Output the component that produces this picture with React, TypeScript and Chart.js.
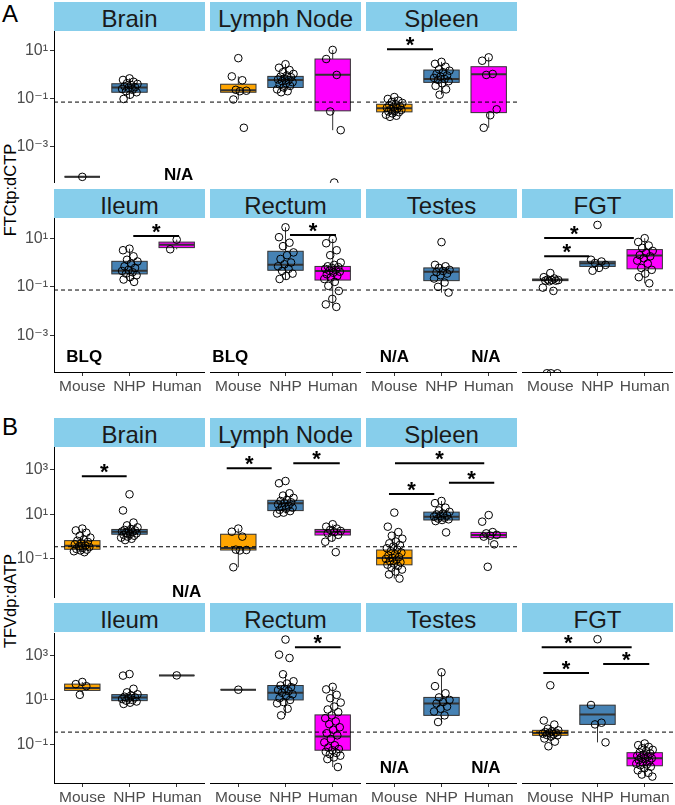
import React, { useEffect, useRef } from "react";
import { Chart, registerables } from "chart.js";

Chart.register(...registerables);

// ---------- shared ----------
const CATEGORIES = ["Mouse", "NHP", "Human"];
const GROUP_COLORS = ["#FFA500", "#4682B4", "#FF00FF"];
const A_TITLE = "FTCtp:dCTP";
const B_TITLE = "TFVdp:dATP";
const A_TICKS = [1e-3, 1e-1, 1e1];
const B_TICKS = [1e-1, 1e1, 1e3];
const A_LIMITS = [3.16e-5, 67.6];
const B_LIMITS = [1.74e-3, 10700];
const A_LLOQ = 0.074;
const B_LLOQ = 0.35;

// ---------- Panel A (FTCtp:dCTP) ----------  box = [whiskerLow, q1, median, q3, whiskerHigh]
const A_BRAIN_MOUSE = [5.7e-5];
const A_BRAIN_MOUSE_BOX = [5.7e-5, 5.7e-5, 5.7e-5, 5.7e-5, 5.7e-5];
const A_BRAIN_NHP = [0.72, 0.62, 0.52, 0.45, 0.42, 0.38, 0.34, 0.31, 0.29, 0.26, 0.24, 0.21, 0.19, 0.15, 0.1];
const A_BRAIN_NHP_BOX = [0.1, 0.19, 0.3, 0.43, 0.72];

const A_LN_MOUSE = [5.0, 0.87, 0.6, 0.24, 0.22, 0.21, 0.095, 0.0063];
const A_LN_MOUSE_BOX = [0.095, 0.19, 0.23, 0.41, 0.87];
const A_LN_NHP = [2.8, 2.0, 1.6, 1.3, 1.1, 0.95, 0.85, 0.8, 0.72, 0.65, 0.6, 0.55, 0.5, 0.45, 0.4, 0.35, 0.3, 0.25, 0.21, 0.19];
const A_LN_NHP_BOX = [0.19, 0.3, 0.62, 0.87, 2.8];
const A_LN_HUMAN = [11, 4.6, 1.0, 0.03, 0.005, 3.3e-5];
const A_LN_HUMAN_BOX = [0.005, 0.032, 1.02, 4.6, 11];

const A_SPLEEN_MOUSE = [0.12, 0.1, 0.085, 0.075, 0.068, 0.06, 0.055, 0.05, 0.046, 0.043, 0.04, 0.038, 0.035, 0.032, 0.03, 0.028, 0.025, 0.022, 0.02, 0.018];
const A_SPLEEN_MOUSE_BOX = [0.018, 0.029, 0.041, 0.06, 0.12];
const A_SPLEEN_NHP = [3.5, 2.9, 2.2, 1.7, 1.5, 1.3, 1.1, 0.95, 0.85, 0.75, 0.68, 0.62, 0.55, 0.45, 0.35, 0.25, 0.15];
const A_SPLEEN_NHP_BOX = [0.15, 0.49, 0.67, 1.6, 3.5];
const A_SPLEEN_HUMAN = [5.4, 3.9, 1.1, 1.0, 0.037, 0.021, 0.0063];
const A_SPLEEN_HUMAN_BOX = [0.0063, 0.027, 1.07, 2.2, 5.4];
const A_SPLEEN_SIG = [[-0.155, 0.82, 11.7]];

const A_ILEUM_NHP = [3.7, 3.2, 1.8, 1.3, 1.1, 0.9, 0.7, 0.6, 0.5, 0.45, 0.4, 0.35, 0.3, 0.25, 0.2, 0.16];
const A_ILEUM_NHP_BOX = [0.16, 0.34, 0.46, 1.12, 3.7];
const A_ILEUM_HUMAN = [8.7, 3.5];
const A_ILEUM_HUMAN_BOX = [3.5, 4.1, 5.4, 6.9, 8.7];
const A_ILEUM_SIG = [[1.08, 2.05, 12.4]];

const A_RECTUM_NHP = [28, 11, 6.5, 4.7, 2.6, 2.0, 1.4, 1.0, 0.85, 0.7, 0.55, 0.45, 0.35, 0.28, 0.21];
const A_RECTUM_NHP_BOX = [0.21, 0.48, 0.81, 2.9, 28];
const A_RECTUM_HUMAN = [9.3, 6.2, 3.2, 2.0, 1.0, 0.8, 0.7, 0.65, 0.6, 0.55, 0.5, 0.46, 0.42, 0.38, 0.33, 0.28, 0.24, 0.21, 0.16, 0.11, 0.068, 0.032, 0.019, 0.015];
const A_RECTUM_HUMAN_BOX = [0.015, 0.19, 0.45, 0.69, 9.3];
const A_RECTUM_SIG = [[1.095, 2.07, 13.5]];

const A_TESTES_NHP = [6.9, 0.8, 0.7, 0.6, 0.5, 0.45, 0.4, 0.35, 0.3, 0.22, 0.15, 0.1, 0.058];
const A_TESTES_NHP_BOX = [0.058, 0.18, 0.42, 0.6, 0.8];

const A_FGT_MOUSE = [0.37, 0.25, 0.22, 0.2, 0.19, 0.19, 0.18, 0.18, 0.17, 0.093, 0.068, 2.8e-5, 2.8e-5, 2.8e-5];
const A_FGT_MOUSE_BOX = [0.17, 0.18, 0.19, 0.21, 0.25];
const A_FGT_NHP = [35, 1.3, 1.1, 0.95, 0.8, 0.6, 0.46];
const A_FGT_NHP_BOX = [0.46, 0.69, 0.93, 1.12, 1.3];
const A_FGT_HUMAN = [10, 7, 5, 4, 3, 2.5, 2, 1.8, 1.5, 1.2, 0.9, 0.6, 0.5, 0.35, 0.25, 0.14];
const A_FGT_HUMAN_BOX = [0.14, 0.55, 1.95, 3.4, 10];
const A_FGT_SIG = [[-0.13, 1.77, 10.2, 0.51], [-0.13, 0.826, 1.8]];

// ---------- Panel B (TFVdp:dATP) ----------
const B_BRAIN_MOUSE = [2.3, 1.9, 1.5, 1.1, 0.9, 0.75, 0.65, 0.58, 0.5, 0.45, 0.4, 0.37, 0.34, 0.31, 0.28, 0.26, 0.24, 0.22, 0.2];
const B_BRAIN_MOUSE_BOX = [0.2, 0.27, 0.39, 0.66, 2.3];
const B_BRAIN_NHP = [80, 15, 4.3, 3.2, 2.6, 2.2, 2.0, 1.9, 1.8, 1.7, 1.6, 1.5, 1.4, 1.3, 1.2, 1.1, 1.0, 0.9, 0.8, 0.7];
const B_BRAIN_NHP_BOX = [0.7, 1.28, 1.66, 2.1, 4.3];
const B_BRAIN_SIG = [[-0.01, 0.94, 515]];

const B_LN_MOUSE = [2.3, 1.66, 1.0, 0.26, 0.25, 0.24, 0.042];
const B_LN_MOUSE_BOX = [0.042, 0.25, 0.31, 1.28, 2.3];
const B_LN_NHP = [316, 250, 89, 70, 55, 45, 40, 35, 32, 28, 25, 22, 20, 18, 16, 14, 12, 11];
const B_LN_NHP_BOX = [11, 14.8, 32, 43, 89];
const B_LN_HUMAN = [3.6, 2.8, 2.3, 2.0, 1.8, 1.6, 1.4, 1.2, 0.9, 0.59, 0.2];
const B_LN_HUMAN_BOX = [0.59, 1.18, 1.66, 2.1, 3.6];
const B_LN_SIG = [[-0.246, 0.707, 1175], [1.165, 2.15, 2000]];

const B_SPLEEN_MOUSE = [12, 2.8, 1.6, 1.1, 0.8, 0.6, 0.5, 0.42, 0.36, 0.3, 0.26, 0.22, 0.19, 0.16, 0.14, 0.12, 0.11, 0.1, 0.09, 0.08, 0.07, 0.062, 0.055, 0.048, 0.04, 0.033, 0.027, 0.02, 0.013];
const B_SPLEEN_MOUSE_BOX = [0.013, 0.054, 0.11, 0.25, 1.6];
const B_SPLEEN_NHP = [40, 32, 20, 15, 13, 11, 10, 9, 8.5, 7.9, 7, 6.5, 6, 5.6, 5, 1.55];
const B_SPLEEN_NHP_BOX = [5.0, 5.6, 7.9, 12.6, 40];
const B_SPLEEN_HUMAN = [9.3, 4.7, 1.6, 1.4, 1.2, 1.1, 1.0, 0.45, 0.044];
const B_SPLEEN_HUMAN_BOX = [0.45, 0.9, 1.18, 1.55, 1.6];
const B_SPLEEN_SIG = [[0.014, 1.906, 2000], [1.158, 2.118, 267], [-0.113, 0.847, 83]];

const B_ILEUM_MOUSE = [65, 52, 42, 17];
const B_ILEUM_MOUSE_BOX = [17, 27, 35, 52, 65];
const B_ILEUM_NHP = [148, 126, 32, 22, 18, 16, 14, 13, 12, 11, 10, 9.3, 8.5, 7.5, 6.6];
const B_ILEUM_NHP_BOX = [6.6, 9.3, 13, 17.4, 32];
const B_ILEUM_HUMAN = [129];
const B_ILEUM_HUMAN_BOX = [129, 129, 129, 129, 129];

const B_RECTUM_MOUSE = [29];
const B_RECTUM_MOUSE_BOX = [29, 29, 29, 29, 29];
const B_RECTUM_NHP = [5400, 1120, 790, 145, 70, 55, 45, 38, 32, 28, 25, 21, 18, 15, 12, 10, 8, 7, 4, 2.0];
const B_RECTUM_NHP_BOX = [2.0, 10, 21, 45, 145];
const B_RECTUM_HUMAN = [39, 30, 17, 12, 7.6, 5, 3.7, 2.8, 2.0, 1.5, 1.07, 0.8, 0.58, 0.45, 0.31, 0.25, 0.17, 0.12, 0.089, 0.07, 0.06, 0.053, 0.045, 0.04, 0.035, 0.03, 0.025, 0.021, 0.0092];
const B_RECTUM_HUMAN_BOX = [0.0092, 0.053, 0.22, 2.1, 39];
const B_RECTUM_SIG = [[1.2, 2.17, 2450]];

const B_TESTES_NHP = [178, 42, 20, 13, 10, 8, 6.9, 5, 4, 3, 2, 1.0];
const B_TESTES_NHP_BOX = [1.0, 2.0, 6.9, 13, 178];

const B_FGT_MOUSE = [46, 1.17, 0.77, 0.5, 0.42, 0.38, 0.35, 0.33, 0.32, 0.3, 0.28, 0.26, 0.25, 0.22, 0.18, 0.13, 0.08];
const B_FGT_MOUSE_BOX = [0.13, 0.25, 0.32, 0.42, 0.77];
const B_FGT_NHP = [5600, 5.9, 0.93, 0.78, 0.12];
const B_FGT_NHP_BOX = [0.12, 0.78, 2.2, 5.8, 5.9];
const B_FGT_HUMAN = [0.107, 0.09, 0.075, 0.065, 0.055, 0.048, 0.042, 0.038, 0.034, 0.03, 0.027, 0.025, 0.023, 0.021, 0.019, 0.017, 0.015, 0.013, 0.012, 0.011, 0.0095, 0.008, 0.0065, 0.005, 0.0042, 0.0034];
const B_FGT_HUMAN_BOX = [0.0034, 0.0105, 0.023, 0.041, 0.107];
const B_FGT_SIG = [[-0.183, 1.724, 2450, 0.38], [-0.149, 0.82, 165], [1.12, 2.097, 420]];

// ---------- facets ----------
const g = (pts: number[], box: number[]) => ({ pts, box });

const FACETS = [
  { panel: "A", row: 0, col: 0, title: "Brain", groups: [g(A_BRAIN_MOUSE, A_BRAIN_MOUSE_BOX), g(A_BRAIN_NHP, A_BRAIN_NHP_BOX), null], sig: [], notes: [["N/A", 2.04, 6.8e-5]] },
  { panel: "A", row: 0, col: 1, title: "Lymph Node", groups: [g(A_LN_MOUSE, A_LN_MOUSE_BOX), g(A_LN_NHP, A_LN_NHP_BOX), g(A_LN_HUMAN, A_LN_HUMAN_BOX)], sig: [], notes: [] },
  { panel: "A", row: 0, col: 2, title: "Spleen", groups: [g(A_SPLEEN_MOUSE, A_SPLEEN_MOUSE_BOX), g(A_SPLEEN_NHP, A_SPLEEN_NHP_BOX), g(A_SPLEEN_HUMAN, A_SPLEEN_HUMAN_BOX)], sig: A_SPLEEN_SIG, notes: [] },
  { panel: "A", row: 1, col: 0, title: "Ileum", groups: [null, g(A_ILEUM_NHP, A_ILEUM_NHP_BOX), g(A_ILEUM_HUMAN, A_ILEUM_HUMAN_BOX)], sig: A_ILEUM_SIG, notes: [["BLQ", 0.04, 1.3e-4]] },
  { panel: "A", row: 1, col: 1, title: "Rectum", groups: [null, g(A_RECTUM_NHP, A_RECTUM_NHP_BOX), g(A_RECTUM_HUMAN, A_RECTUM_HUMAN_BOX)], sig: A_RECTUM_SIG, notes: [["BLQ", -0.17, 1.3e-4]] },
  { panel: "A", row: 1, col: 2, title: "Testes", groups: [null, g(A_TESTES_NHP, A_TESTES_NHP_BOX), null], sig: [], notes: [["N/A", 0.0, 1.3e-4], ["N/A", 1.94, 1.3e-4]] },
  { panel: "A", row: 1, col: 3, title: "FGT", groups: [g(A_FGT_MOUSE, A_FGT_MOUSE_BOX), g(A_FGT_NHP, A_FGT_NHP_BOX), g(A_FGT_HUMAN, A_FGT_HUMAN_BOX)], sig: A_FGT_SIG, notes: [] },
  { panel: "B", row: 0, col: 0, title: "Brain", groups: [g(B_BRAIN_MOUSE, B_BRAIN_MOUSE_BOX), g(B_BRAIN_NHP, B_BRAIN_NHP_BOX), null], sig: B_BRAIN_SIG, notes: [["N/A", 2.21, 0.0031]] },
  { panel: "B", row: 0, col: 1, title: "Lymph Node", groups: [g(B_LN_MOUSE, B_LN_MOUSE_BOX), g(B_LN_NHP, B_LN_NHP_BOX), g(B_LN_HUMAN, B_LN_HUMAN_BOX)], sig: B_LN_SIG, notes: [] },
  { panel: "B", row: 0, col: 2, title: "Spleen", groups: [g(B_SPLEEN_MOUSE, B_SPLEEN_MOUSE_BOX), g(B_SPLEEN_NHP, B_SPLEEN_NHP_BOX), g(B_SPLEEN_HUMAN, B_SPLEEN_HUMAN_BOX)], sig: B_SPLEEN_SIG, notes: [] },
  { panel: "B", row: 1, col: 0, title: "Ileum", groups: [g(B_ILEUM_MOUSE, B_ILEUM_MOUSE_BOX), g(B_ILEUM_NHP, B_ILEUM_NHP_BOX), g(B_ILEUM_HUMAN, B_ILEUM_HUMAN_BOX)], sig: [], notes: [] },
  { panel: "B", row: 1, col: 1, title: "Rectum", groups: [g(B_RECTUM_MOUSE, B_RECTUM_MOUSE_BOX), g(B_RECTUM_NHP, B_RECTUM_NHP_BOX), g(B_RECTUM_HUMAN, B_RECTUM_HUMAN_BOX)], sig: B_RECTUM_SIG, notes: [] },
  { panel: "B", row: 1, col: 2, title: "Testes", groups: [null, g(B_TESTES_NHP, B_TESTES_NHP_BOX), null], sig: [], notes: [["N/A", 0.0, 0.0083], ["N/A", 1.94, 0.0083]] },
  { panel: "B", row: 1, col: 3, title: "FGT", groups: [g(B_FGT_MOUSE, B_FGT_MOUSE_BOX), g(B_FGT_NHP, B_FGT_NHP_BOX), g(B_FGT_HUMAN, B_FGT_HUMAN_BOX)], sig: B_FGT_SIG, notes: [] },
];

// ---------- layout / style ----------
const FONT = "'Liberation Sans', Arial, 'DejaVu Sans', sans-serif";
const COL_LEFT = [54, 210, 366, 522];
const FACET_W = 151;
const STRIP_H = 29;
const ROW_GEOM: any = { A: [[2, 31, 183], [189, 218, 372]], B: [[418, 447, 598], [603, 633, 783]] };
const Y_AXIS_W = 36;
const X_AXIS_H = 22;
const BOX_HALF = 0.375;
const JITTER = 0.18;

const SUP: any = { "-": "\u207B", "0": "\u2070", "1": "\u00B9", "2": "\u00B2", "3": "\u00B3", "4": "\u2074", "5": "\u2075" };
const fmtPow = (v: number) => "10" + String(Math.round(Math.log10(v))).split("").map((c) => SUP[c]).join("");
const jit = (k: number) => ((((k * 0.6180339887) + 0.5) % 1) - 0.5) * 2 * JITTER;

function makePlugin(f: any) {
  const lloq = f.panel === "A" ? A_LLOQ : B_LLOQ;
  return {
    id: "facetMarks",
    beforeDatasetsDraw(chart: any) {
      const { ctx, chartArea: a } = chart;
      const xs = chart.scales.x;
      const ys = chart.scales.y;
      ctx.save();
      ctx.beginPath();
      ctx.rect(a.left, a.top, a.right - a.left, a.bottom - a.top);
      ctx.clip();
      f.groups.forEach((grp: any, i: number) => {
        if (!grp) return;
        const [lo, q1, med, q3, hi] = grp.box;
        const cx = xs.getPixelForValue(i);
        const hw = xs.getPixelForValue(i + BOX_HALF) - cx;
        const yLo = ys.getPixelForValue(lo), yQ1 = ys.getPixelForValue(q1), yMed = ys.getPixelForValue(med), yQ3 = ys.getPixelForValue(q3), yHi = ys.getPixelForValue(hi);
        ctx.strokeStyle = "#333333";
        ctx.lineWidth = 1;
        ctx.beginPath();
        ctx.moveTo(cx, yHi); ctx.lineTo(cx, yQ3);
        ctx.moveTo(cx, yQ1); ctx.lineTo(cx, yLo);
        ctx.stroke();
        ctx.fillStyle = GROUP_COLORS[i];
        ctx.fillRect(cx - hw, yQ3, 2 * hw, yQ1 - yQ3);
        ctx.strokeRect(cx - hw, yQ3, 2 * hw, yQ1 - yQ3);
        ctx.lineWidth = 2;
        ctx.beginPath();
        ctx.moveTo(cx - hw, yMed); ctx.lineTo(cx + hw, yMed);
        ctx.stroke();
      });
      const yl = ys.getPixelForValue(lloq);
      ctx.strokeStyle = "#000";
      ctx.lineWidth = 1;
      ctx.setLineDash([4, 3]);
      ctx.beginPath();
      ctx.moveTo(a.left, yl); ctx.lineTo(a.right, yl);
      ctx.stroke();
      ctx.restore();
    },
    afterDatasetsDraw(chart: any) {
      const { ctx } = chart;
      const xs = chart.scales.x;
      const ys = chart.scales.y;
      ctx.save();
      f.sig.forEach((s: number[]) => {
        const x1 = xs.getPixelForValue(s[0]);
        const x2 = xs.getPixelForValue(s[1]);
        const y = ys.getPixelForValue(s[2]);
        ctx.strokeStyle = "#000";
        ctx.lineWidth = 2;
        ctx.beginPath();
        ctx.moveTo(x1, y); ctx.lineTo(x2, y);
        ctx.stroke();
        const sx = s.length > 3 ? xs.getPixelForValue(s[3]) : (x1 + x2) / 2;
        ctx.fillStyle = "#000";
        ctx.font = `bold 22px ${FONT}`;
        ctx.textAlign = "center";
        ctx.textBaseline = "alphabetic";
        ctx.fillText("*", sx, y + 3);
      });
      f.notes.forEach((n: any[]) => {
        ctx.fillStyle = "#000";
        ctx.font = `bold 17px ${FONT}`;
        ctx.textAlign = "center";
        ctx.textBaseline = "middle";
        ctx.fillText(n[0], xs.getPixelForValue(n[1]), ys.getPixelForValue(n[2]));
      });
      ctx.restore();
    },
  };
}

function Facet({ f }: { f: any }) {
  const ref = useRef<HTMLCanvasElement>(null);
  const [stripTop, plotTop, plotBottom] = ROW_GEOM[f.panel][f.row];
  const showY = f.col === 0;
  const showX = f.row === 1;
  const left = COL_LEFT[f.col] - (showY ? Y_AXIS_W : 0);
  const width = FACET_W + (showY ? Y_AXIS_W : 0);
  const height = plotBottom - plotTop + (showX ? X_AXIS_H : 0);

  useEffect(() => {
    const ticks = f.panel === "A" ? A_TICKS : B_TICKS;
    const lim = f.panel === "A" ? A_LIMITS : B_LIMITS;
    const datasets = f.groups
      .map((grp: any, i: number) =>
        grp
          ? {
              data: grp.pts.map((v: number, k: number) => ({ x: i + jit(k), y: v })),
              pointRadius: 3.8,
              pointBorderWidth: 1,
              pointBorderColor: "#000",
              pointBackgroundColor: "rgba(0,0,0,0)",
              showLine: false,
            }
          : null
      )
      .filter(Boolean);
    const chart = new Chart(ref.current as HTMLCanvasElement, {
      type: "scatter",
      data: { datasets },
      options: {
        animation: false,
        responsive: false,
        maintainAspectRatio: false,
        devicePixelRatio: 1,
        events: [],
        layout: { padding: 0, autoPadding: false },
        plugins: { legend: { display: false }, tooltip: { enabled: false }, title: { display: false } },
        scales: {
          x: {
            type: "linear",
            min: -0.6,
            max: 2.6,
            display: showX,
            afterBuildTicks: (s: any) => { s.ticks = [0, 1, 2].map((v) => ({ value: v })); },
            afterFit: (s: any) => {
              s.paddingLeft = 0; s.paddingRight = 0;
              if (showX) s.height = X_AXIS_H;
            },
            ticks: {
              callback: (v: any) => CATEGORIES[Math.round(v)],
              font: { family: FONT, size: 15.5 },
              color: "#4D4D4D",
              padding: 1,
              autoSkip: false,
              maxRotation: 0,
              minRotation: 0,
            },
            grid: { display: true, drawOnChartArea: false, drawTicks: true, tickLength: 4, color: "#333333" },
            border: { display: true, color: "#000", width: 1 },
          },
          y: {
            type: "logarithmic",
            min: lim[0],
            max: lim[1],
            display: showY,
            afterBuildTicks: (s: any) => { s.ticks = ticks.map((v) => ({ value: v })); },
            afterFit: (s: any) => {
              s.paddingTop = 0; s.paddingBottom = 0;
              if (showY) s.width = Y_AXIS_W;
            },
            ticks: {
              callback: (v: any) => fmtPow(Number(v)),
              font: { family: FONT, size: 16 },
              color: "#4D4D4D",
              padding: 2,
              autoSkip: false,
            },
            grid: { display: true, drawOnChartArea: false, drawTicks: true, tickLength: 4, color: "#333333" },
            border: { display: true, color: "#000", width: 1 },
          },
        },
      } as any,
      plugins: [makePlugin(f)],
    } as any);
    return () => chart.destroy();
  }, []);

  return (
    <>
      <div
        style={{
          position: "absolute",
          left: COL_LEFT[f.col],
          top: stripTop,
          width: FACET_W,
          height: STRIP_H,
          background: "#87CEEB",
          color: "#1A1A1A",
          fontFamily: FONT,
          fontSize: 24,
          lineHeight: "33px",
          textAlign: "center",
          whiteSpace: "nowrap",
          overflow: "visible",
        }}
      >
        {f.title}
      </div>
      <canvas
        ref={ref}
        width={width}
        height={height}
        style={{ position: "absolute", left, top: plotTop, width, height, display: "block" }}
      />
    </>
  );
}

function AxisTitle({ text, cy }: { text: string; cy: number }) {
  return (
    <div
      style={{
        position: "absolute",
        left: 10 - 100,
        top: cy - 10,
        width: 200,
        height: 20,
        lineHeight: "20px",
        textAlign: "center",
        fontFamily: FONT,
        fontSize: 16.5,
        color: "#000",
        transform: "rotate(-90deg)",
        transformOrigin: "100px 10px",
        whiteSpace: "nowrap",
      }}
    >
      {text}
    </div>
  );
}

export default function App() {
  return (
    <div style={{ position: "absolute", left: 0, top: 0, width: 675, height: 805, background: "#fff", overflow: "hidden" }}>
      <div style={{ position: "absolute", left: 2, top: 2, fontFamily: FONT, fontSize: 24, lineHeight: "24px", color: "#000" }}>A</div>
      <div style={{ position: "absolute", left: 2, top: 415, fontFamily: FONT, fontSize: 24, lineHeight: "24px", color: "#000" }}>B</div>
      <AxisTitle text={A_TITLE} cy={190} />
      <AxisTitle text={B_TITLE} cy={601} />
      {FACETS.map((f, i) => (
        <Facet key={i} f={f} />
      ))}
    </div>
  );
}
